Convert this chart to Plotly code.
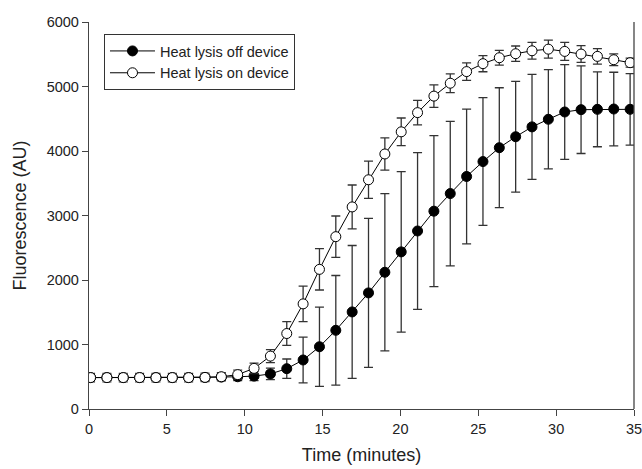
import plotly.graph_objects as go

# Time (minutes)
time_min = [0.1, 1.15, 2.2, 3.25, 4.3, 5.35, 6.4, 7.45, 8.5, 9.55, 10.6, 11.65,
            12.7, 13.75, 14.8, 15.85, 16.9, 17.95, 19.0, 20.05, 21.1, 22.15, 23.2,
            24.25, 25.3, 26.35, 27.4, 28.45, 29.5, 30.55, 31.6, 32.65, 33.7, 34.75]

# Heat lysis off device (filled)
off_mean = [487, 487, 487, 487, 487, 487, 487, 490, 495, 500, 510, 544,
            625, 760, 965, 1220, 1505, 1800, 2120, 2436, 2760, 3067, 3340,
            3605, 3836, 4051, 4221, 4374, 4492, 4605, 4641, 4646, 4651, 4646]
off_err = [40, 40, 40, 40, 40, 40, 40, 45, 50, 60, 70, 90,
           150, 355, 615, 850, 1030, 1155, 1220, 1245, 1215, 1170, 1120,
           1045, 990, 930, 860, 815, 770, 735, 680, 580, 570, 555]

# Heat lysis on device (open)
on_mean = [487, 487, 487, 487, 487, 487, 487, 490, 500, 533, 630, 820,
           1170, 1630, 2165, 2672, 3133, 3554, 3954, 4297, 4595, 4851, 5051,
           5231, 5354, 5446, 5508, 5554, 5579, 5544, 5503, 5467, 5415, 5369]
on_err = [65, 65, 65, 65, 65, 65, 65, 65, 65, 70, 80, 100,
          185, 275, 320, 320, 340, 290, 250, 215, 190, 175, 145,
          135, 125, 115, 120, 130, 140, 140, 130, 120, 90, 70]

x_ticks = [0, 5, 10, 15, 20, 25, 30, 35]
y_ticks = [0, 1000, 2000, 3000, 4000, 5000, 6000]

FONT = "Liberation Sans, Arial, sans-serif"
TXT = "#222222"

fig = go.Figure()
fig.add_trace(go.Scatter(
    x=time_min, y=off_mean, mode="lines+markers", name="Heat lysis off device",
    line=dict(color="black", width=1),
    marker=dict(symbol="circle", size=10, color="black", line=dict(color="black", width=1)),
    error_y=dict(type="data", array=off_err, visible=True, color="#333333", thickness=1.3, width=4.5),
))
fig.add_trace(go.Scatter(
    x=time_min, y=on_mean, mode="lines+markers", name="Heat lysis on device",
    line=dict(color="black", width=1),
    marker=dict(symbol="circle", size=10, color="white", line=dict(color="black", width=1)),
    error_y=dict(type="data", array=on_err, visible=True, color="#333333", thickness=1.3, width=4.5),
))

axis_common = dict(
    showgrid=False, zeroline=False, showline=True, linecolor="#444444", linewidth=1.3,
    ticks="outside", ticklen=6, tickcolor="#444444", tickwidth=1.3,
    tickfont=dict(family=FONT, size=14.5, color=TXT), automargin=False,
    ticklabeloverflow="allow",
)

fig.update_layout(
    width=642, height=469,
    margin=dict(l=89, r=8, t=22, b=60),
    paper_bgcolor="white", plot_bgcolor="white",
    font=dict(family=FONT, color=TXT),
    showlegend=True,
    legend=dict(
        x=0.0275, y=0.969, xanchor="left", yanchor="top",
        bordercolor="#333333", borderwidth=1, bgcolor="white",
        font=dict(family=FONT, size=14.5, color=TXT),
        itemwidth=45, tracegroupgap=0,
    ),
    xaxis=dict(range=[0, 35], tickvals=x_ticks,
               title=dict(text="Time (minutes)", font=dict(family=FONT, size=18, color=TXT), standoff=12),
               **axis_common),
    yaxis=dict(range=[0, 6000], tickvals=y_ticks,
               title=dict(text="Fluorescence (AU)", font=dict(family=FONT, size=18, color=TXT), standoff=15),
               **axis_common),
    shapes=[dict(type="line", xref="paper", yref="paper", x0=1, x1=1, y0=0, y1=1,
                 line=dict(color="#444444", width=1.3))],
)

fig.write_html("out.html", config={"displayModeBar": False},
               post_script="document.body.style.margin='0';document.body.style.overflow='hidden';")
